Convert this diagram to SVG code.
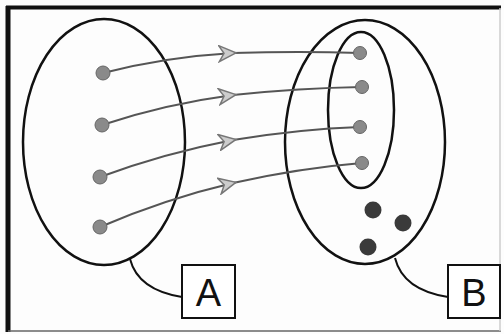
<svg xmlns="http://www.w3.org/2000/svg" width="504" height="334" viewBox="0 0 504 334">
<style>
.set{fill:none;stroke:#111;stroke-width:2.5}
.arr{fill:none;stroke:#555;stroke-width:2;marker-mid:url(#ah)}
.pdot{fill:#8a8a8a;stroke:#666;stroke-width:1}
.ddot{fill:#3a3a3a}
.lead{fill:none;stroke:#111;stroke-width:2}
.box{fill:#fff;stroke:#111;stroke-width:2}
.lbl{font-family:"Liberation Sans",Arial,sans-serif;font-size:38px;fill:#111;text-anchor:middle}
</style>
<defs>
<marker id="ah" viewBox="0 0 20 18" refX="15" refY="9" markerWidth="20" markerHeight="18" markerUnits="userSpaceOnUse" orient="auto">
<path d="M1,1 L18,9 L1,17 L6,9 Z" fill="#ccc" stroke="#777" stroke-width="1.5"/>
</marker>
</defs>
<rect x="0" y="0" width="504" height="334" fill="#fdfdfd"/>
<g id="frame">
<line x1="6" y1="7.5" x2="501" y2="7.5" stroke="#111" stroke-width="4"/>
<line x1="8" y1="6" x2="8" y2="332" stroke="#111" stroke-width="5"/>
<line x1="8" y1="331" x2="501" y2="331" stroke="#666" stroke-width="1.5"/>
<line x1="500" y1="8" x2="500" y2="331" stroke="#ccc" stroke-width="1.5"/>
</g>
<g id="setA">
<ellipse class="set" cx="104" cy="142" rx="81" ry="123"/>
</g>
<g id="setB">
<ellipse class="set" cx="365" cy="142" rx="80" ry="122"/>
</g>
<g id="subsetB">
<ellipse class="set" cx="361" cy="110" rx="33" ry="78"/>
</g>
<g id="connectors">
<path class="arr" d="M103,73 Q165,57 233,53 Q300,51 360,53"/>
<path class="arr" d="M102,125 Q165,104 233,95 Q300,88 362,87"/>
<path class="arr" d="M100,177 Q165,153 233,140 Q300,129 360,127"/>
<path class="arr" d="M100,227 Q165,199 233,183 Q300,168 362,163"/>
<path class="lead" d="M130,259 Q138,290 182,297"/>
<path class="lead" d="M395,258 Q403,290 448,297"/>
</g>
<g id="a1"><circle class="pdot" cx="103" cy="73" r="7"/></g>
<g id="a2"><circle class="pdot" cx="102" cy="125" r="7"/></g>
<g id="a3"><circle class="pdot" cx="100" cy="177" r="7"/></g>
<g id="a4"><circle class="pdot" cx="100" cy="227" r="7"/></g>
<g id="b1"><circle class="pdot" cx="360" cy="53" r="6.5"/></g>
<g id="b2"><circle class="pdot" cx="362" cy="87" r="6.5"/></g>
<g id="b3"><circle class="pdot" cx="360" cy="127" r="6.5"/></g>
<g id="b4"><circle class="pdot" cx="362" cy="163" r="6.5"/></g>
<g id="b5"><circle class="ddot" cx="373" cy="210" r="8.5"/></g>
<g id="b6"><circle class="ddot" cx="403" cy="223" r="8.5"/></g>
<g id="b7"><circle class="ddot" cx="368" cy="247" r="8.5"/></g>
<g id="labelA">
<rect class="box" x="182" y="265" width="53" height="53"/>
<text class="lbl" x="208.5" y="306">A</text>
</g>
<g id="labelB">
<rect class="box" x="448" y="265" width="52" height="53"/>
<text class="lbl" x="474" y="306">B</text>
</g>
</svg>
